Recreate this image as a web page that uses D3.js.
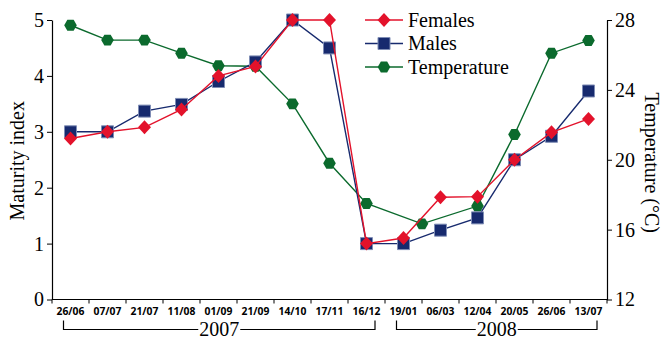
<!DOCTYPE html>
<html>
<head>
<meta charset="utf-8">
<script src="https://cdn.jsdelivr.net/npm/d3@7"></script>
<style>
  body { margin: 0; background: #fff; }
  svg { display: block; }
</style>
</head>
<body>
<svg id="viz" width="663" height="341"></svg>
<script>
// sampling dates (x categories)
const dates = ["26/06", "07/07", "21/07", "11/08", "01/09", "21/09", "14/10", "17/11",
  "16/12", "19/01", "06/03", "12/04", "20/05", "26/06", "13/07"];
const females = [2.88, 3.0, 3.08, 3.4, 4.0, 4.17, 5.0, 5.0, 1.0, 1.1, 1.83, 1.84, 2.5, 2.99, 3.23];
const males = [3.0, 3.0, 3.37, 3.49, 3.9, 4.25, 5.0, 4.5, 1.0, 1.0, 1.24, 1.46, 2.5, 2.92, 3.73];
// temperature was logged on slightly different days: position given as date index
const tempPos = [0, 1, 2, 3, 4, 5, 6, 7, 8, 9.5, 11, 12, 13, 14];
const temperature = [27.7, 26.85, 26.85, 26.1, 25.38, 25.35, 23.2, 19.8, 17.5, 16.33, 17.35, 21.45, 26.1, 26.83];
const leftTicks = [0, 1, 2, 3, 4, 5];
const rightTicks = [12, 16, 20, 24, 28];
const years = [{ label: "2007", from: 0, to: 8 }, { label: "2008", from: 9, to: 14 }];

const red = "#e3122b", navy = "#172a6e", green = "#0b6a2d";
const serif = '"Liberation Serif", "DejaVu Serif", serif';

const svg = d3.select("#viz");
const mLeft = 52, mRight = 607, mTop = 20, mBottom = 299.5;

const x = d3.scaleBand().domain(d3.range(dates.length)).range([mLeft, mRight]).padding(0);
const xc = (i) => mLeft + x.bandwidth() * (i + 0.5); // continuous index -> centre
const y = d3.scaleLinear().domain([0, 5]).range([mBottom, mTop]);
const y2 = d3.scaleLinear().domain([12, 28]).range([mBottom, mTop]);

// x axis: ticks at band boundaries
const xAxisG = svg.append("g").attr("transform", `translate(0,${mBottom})`);
xAxisG.append("line").attr("x1", mLeft).attr("x2", mRight).attr("stroke", "#000").attr("stroke-width", 1.2);
xAxisG.selectAll("line.tk").data(d3.range(dates.length + 1)).join("line")
  .attr("class", "tk")
  .attr("x1", (i) => mLeft + x.bandwidth() * i).attr("x2", (i) => mLeft + x.bandwidth() * i)
  .attr("y1", 0).attr("y2", 4).attr("stroke", "#000");
xAxisG.selectAll("text").data(dates).join("text")
  .attr("x", (d, i) => xc(i)).attr("y", 15.5)
  .attr("text-anchor", "middle")
  .style("font-family", '"Open Sans", sans-serif').style("font-weight", 700).style("font-size", "10.3px")
  .text((d) => d);

// left axis
const yAxis = d3.axisLeft(y).tickValues(leftTicks).tickFormat(d3.format("d"))
  .tickSize(5).tickSizeOuter(0).tickPadding(3);
const gl = svg.append("g").attr("transform", `translate(${mLeft},0)`).call(yAxis);
gl.select(".domain").attr("stroke-width", 1.2);
gl.selectAll("text").style("font-family", serif).style("font-size", "20px").attr("fill", "#000");

// right axis
const yAxis2 = d3.axisRight(y2).tickValues(rightTicks).tickFormat(d3.format("d"))
  .tickSize(5).tickSizeOuter(0).tickPadding(3);
const gr = svg.append("g").attr("transform", `translate(${mRight},0)`).call(yAxis2);
gr.select(".domain").attr("stroke-width", 1.2);
gr.selectAll("text").style("font-family", serif).style("font-size", "20px").attr("fill", "#000");

// axis titles
svg.append("text").attr("transform", `translate(24,${(mTop + mBottom) / 2 + 1}) rotate(-90)`)
  .attr("text-anchor", "middle").style("font-family", serif).style("font-size", "20px")
  .text("Maturity index");
svg.append("text").attr("transform", `translate(645,${(mTop + mBottom) / 2 + 3}) rotate(90)`)
  .attr("text-anchor", "middle").style("font-family", serif).style("font-size", "20px")
  .text("Temperature (°C)");

// year brackets
years.forEach((yr) => {
  const x0 = xc(yr.from) - 7, x1 = xc(yr.to) + 8.5, yb = 329.5, mid = (x0 + x1) / 2;
  const g = svg.append("g");
  const t = g.append("text").attr("x", mid).attr("y", 336).attr("text-anchor", "middle")
    .style("font-family", serif).style("font-size", "20px").text(yr.label);
  const w = t.node().getComputedTextLength();
  g.append("path")
    .attr("d", `M${x0},${yb - 9}V${yb}H${mid - w / 2 - 1}M${mid + w / 2 + 1},${yb}H${x1}V${yb - 9}`)
    .attr("fill", "none").attr("stroke", "#000").attr("stroke-width", 1.2);
});

// marker shapes
const diamond = "M0,-7L6.5,0L0,7L-6.5,0Z";
const square = "M-6,-6H6V6H-6Z";
const hexPath = "M" + d3.range(6).map((k) => {
  const a = (Math.PI / 3) * k;
  return [6.3 * Math.cos(a), 6.3 * Math.sin(a)].join(",");
}).join("L") + "Z";

function series(xs, vals, scale, color, shape, stroke) {
  const pts = vals.map((v, i) => [xc(xs[i]), scale(v)]);
  svg.append("path").attr("d", d3.line()(pts)).attr("fill", "none")
    .attr("stroke", color).attr("stroke-width", 1.4);
  svg.append("g").selectAll("path").data(pts).join("path")
    .attr("transform", (p) => `translate(${p[0]},${p[1]})`)
    .attr("d", shape).attr("fill", color)
    .attr("stroke", stroke || "none").attr("stroke-width", 1);
}

const idx = d3.range(dates.length);
series(tempPos, temperature, y2, green, hexPath);
series(idx, males, y, navy, square, "#7f8db5");
series(idx, females, y, red, diamond);

// legend
const legend = [
  { label: "Females", color: red, shape: diamond },
  { label: "Males", color: navy, shape: square, stroke: "#7f8db5" },
  { label: "Temperature", color: green, shape: hexPath },
];
const lg = svg.append("g").selectAll("g").data(legend).join("g")
  .attr("transform", (d, i) => `translate(365,${20 + i * 23.5})`);
lg.append("line").attr("x1", 0).attr("x2", 38).attr("stroke", (d) => d.color).attr("stroke-width", 1.4);
lg.append("path").attr("transform", "translate(19,0)").attr("d", (d) => d.shape)
  .attr("fill", (d) => d.color).attr("stroke", (d) => d.stroke || "none");
lg.append("text").attr("x", 43).attr("y", 6.5).style("font-family", serif).style("font-size", "20px")
  .text((d) => d.label);
</script>
</body>
</html>
